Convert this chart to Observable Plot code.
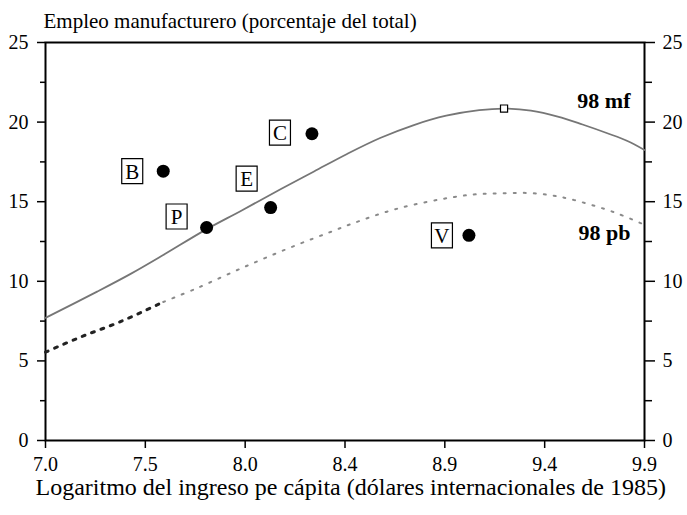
<!DOCTYPE html>
<html>
<head>
<meta charset="utf-8">
<script src="https://cdn.jsdelivr.net/npm/d3@7"></script>
<script src="https://cdn.jsdelivr.net/npm/@observablehq/plot@0.6"></script>
<style>
  html, body { margin: 0; padding: 0; background: #fff; }
</style>
</head>
<body>
<div id="chart"></div>
<script>
// ---- data ----
const titleY = "Empleo manufacturero (porcentaje del total)";
const titleX = "Logaritmo del ingreso pe cápita (dólares internacionales de 1985)";

const xTickValues = [7.0, 7.4833, 7.9667, 8.45, 8.9333, 9.4167, 9.9];
const xTickLabels = ["7.0", "7.5", "8.0", "8.4", "8.9", "9.4", "9.9"];
const yTicks = [0, 5, 10, 15, 20, 25];
const yMinorTicks = [2.5, 7.5, 12.5, 17.5, 22.5];

const mfX = [7.00, 7.25, 7.41, 7.57, 7.77, 7.95, 8.14, 8.30, 8.46, 8.62, 8.78, 8.94, 9.10, 9.22, 9.35, 9.48, 9.60, 9.72, 9.82, 9.90];
const mfY = [7.70, 9.35, 10.45, 11.65, 13.20, 14.45, 15.80, 16.90, 18.00, 19.00, 19.80, 20.40, 20.75, 20.85, 20.72, 20.35, 19.85, 19.30, 18.80, 18.25];

const pbX = [7.00, 7.17, 7.36, 7.57, 7.73, 7.98, 8.22, 8.38, 8.48, 8.70, 8.98, 9.09, 9.20, 9.33, 9.45, 9.56, 9.75, 9.90];
const pbY = [5.55, 6.50, 7.45, 8.70, 9.55, 11.00, 12.30, 13.10, 13.60, 14.55, 15.30, 15.47, 15.52, 15.55, 15.40, 15.10, 14.35, 13.55];

const pointNames = ["B", "C", "E", "P", "V"];
const pointX = [7.57, 8.29, 8.09, 7.78, 9.05];
const pointY = [16.92, 19.27, 14.63, 13.38, 12.89];

const peakX = [9.22];
const peakY = [20.85];

const seriesNames = ["98 mf", "98 pb"];

// ---- build tables ----
const mf = mfX.map((x, i) => ({x, y: mfY[i]}));
const pb = pbX.map((x, i) => ({x, y: pbY[i]}));
const pts = pointNames.map((n, i) => ({name: n, x: pointX[i], y: pointY[i]}));
const peak = peakX.map((x, i) => ({x, y: peakY[i]}));

const pbDark = pb.filter(d => d.x <= 7.57);
const pbLight = pb.filter(d => d.x >= 7.57);

// label box offsets (pixels) relative to each point
const boxOffset = {B: [-31, 0], C: [-32, -1], E: [-24, -29], P: [-30, -11], V: [-27, 0]};

const boxSymbol = {
  draw(context) {
    const w = 21, h = 25;
    context.moveTo(-w / 2, -h / 2);
    context.lineTo(w / 2, -h / 2);
    context.lineTo(w / 2, h / 2);
    context.lineTo(-w / 2, h / 2);
    context.closePath();
  }
};

const font = "'Liberation Serif', 'Times New Roman', serif";

const labelMarks = [];
for (const p of pts) {
  const [dx, dy] = boxOffset[p.name];
  labelMarks.push(Plot.dot([p], {x: "x", y: "y", symbol: boxSymbol, r: 5, fill: "white", stroke: "black", strokeWidth: 1.2, dx, dy}));
  labelMarks.push(Plot.text([p], {x: "x", y: "y", text: "name", dx, dy: dy + 1, fontSize: 21, fill: "black"}));
}

const chart = Plot.plot({
  width: 687,
  height: 515,
  marginLeft: 45,
  marginRight: 43,
  marginTop: 42,
  marginBottom: 75,
  style: {fontFamily: font, fontSize: "20px", background: "white", color: "black"},
  x: {domain: [7.0, 9.9]},
  y: {domain: [0, 25]},
  marks: [
    Plot.axisX({ticks: xTickValues, tickFormat: d => xTickLabels[xTickValues.indexOf(d)], tickSize: 8, tickPadding: 8, fontSize: 20, label: null, strokeWidth: 1.5}),
    Plot.axisY({anchor: "left", ticks: yTicks, tickSize: 8, tickPadding: 9, fontSize: 20, label: null, strokeWidth: 1.5}),
    Plot.axisY({anchor: "left", ticks: yMinorTicks, tickSize: 5, tickFormat: () => "", label: null, strokeWidth: 1.5}),
    Plot.axisY({anchor: "right", ticks: yTicks, tickSize: 10, tickPadding: 8, fontSize: 20, label: null, strokeWidth: 1.5}),
    Plot.axisY({anchor: "right", ticks: yMinorTicks, tickSize: 7, tickFormat: () => "", label: null, strokeWidth: 1.5}),
    Plot.frame({stroke: "black", strokeWidth: 2}),
    Plot.line(mf, {x: "x", y: "y", curve: "catmull-rom", stroke: "#767676", strokeWidth: 1.8}),
    Plot.line(pbDark, {x: "x", y: "y", curve: "catmull-rom", stroke: "#222", strokeWidth: 3, strokeDasharray: "3,7"}),
    Plot.line(pbLight, {x: "x", y: "y", curve: "catmull-rom", stroke: "#8a8a8a", strokeWidth: 2, strokeDasharray: "2,8"}),
    Plot.dot(peak, {x: "x", y: "y", symbol: "square", r: 4, fill: "white", stroke: "black", strokeWidth: 1.2}),
    Plot.dot(pts, {x: "x", y: "y", r: 6.5, fill: "black", stroke: "none"}),
    ...labelMarks,
    Plot.text([mf[mf.length - 1]], {x: "x", y: "y", text: () => seriesNames[0], dx: -14, dy: -49, textAnchor: "end", fontSize: 22, fontWeight: "bold", fill: "black"}),
    Plot.text([pb[pb.length - 1]], {x: "x", y: "y", text: () => seriesNames[1], dx: -14, dy: 8, textAnchor: "end", fontSize: 22, fontWeight: "bold", fill: "black"}),
    Plot.text([titleY], {frameAnchor: "top-left", text: d => d, dx: -2, dy: -29, textAnchor: "start", fontSize: 21, fill: "black"}),
    Plot.text([titleX], {frameAnchor: "bottom-left", text: d => d, dx: -10, dy: 54, textAnchor: "start", fontSize: 24, fill: "black"})
  ]
});

document.getElementById("chart").appendChild(chart);
</script>
</body>
</html>
